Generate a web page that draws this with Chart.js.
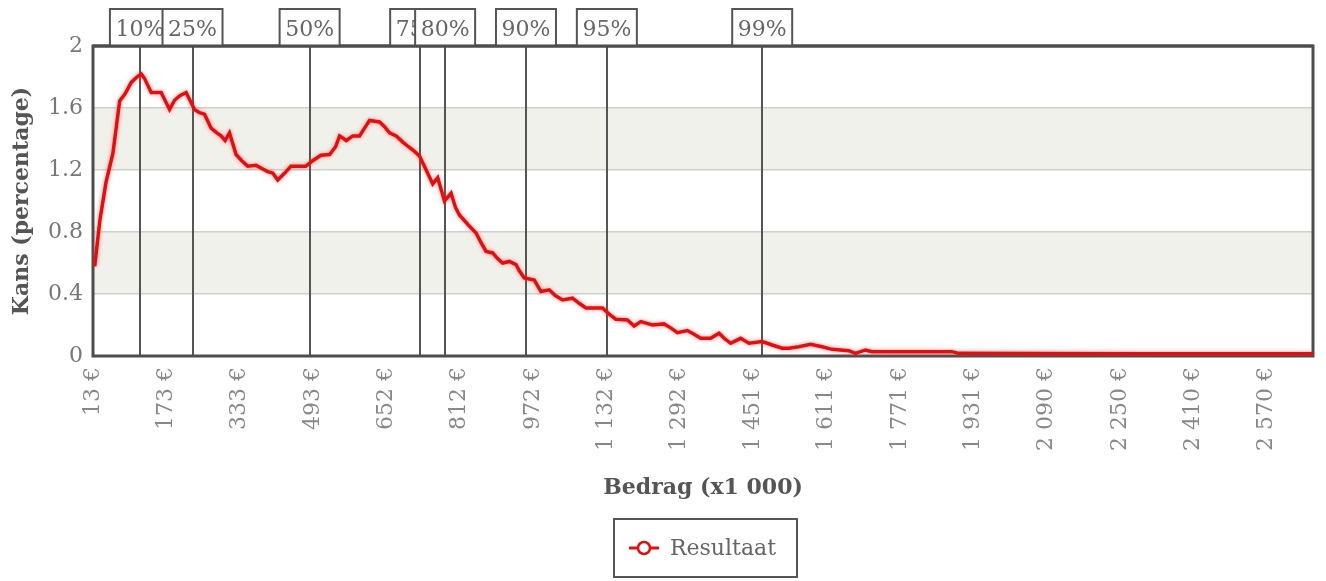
<!DOCTYPE html>
<html><head><meta charset="utf-8">
<script src="https://cdn.jsdelivr.net/npm/chart.js@4.4.1/dist/chart.umd.min.js"></script>
<style>html,body{margin:0;padding:0;background:#fff;overflow:hidden;}</style>
</head><body>
<canvas id="c" width="1326" height="581"></canvas>
<script>
// ---- data ----
const amounts = [17,28.5,41.6,56.8,71.4,82.9,96.6,109,118.4,125.7,140.1,150.3,161.8,180.1,191,202.5,216.2,234.5,245.4,256.2,270.6,283,292.3,301,310.6,325,337.4,350.4,368.5,380.9,393.9,404.8,415.7,430.9,444.6,461.3,477.2,491.8,509.8,528.7,541.8,550.5,565.1,579.4,594,604.9,615.7,637.5,648.4,659.2,673.8,688.2,700.6,713.6,724.5,739.1,753.4,764.3,778.9,793.4,802.8,811.5,829.5,847.8,857.2,869.6,883.9,894.1,905.7,920.2,934.8,942,952.9,974.6,989.2,1007.2,1020.3,1036.2,1057.9,1072.5,1087,1105.1,1123.1,1137.7,1152.3,1177.5,1192.1,1206.7,1231.9,1257.3,1272.6,1286.3,1308,1322.6,1337.2,1358.9,1377,1390,1402.4,1424.2,1442.2,1471.1,1492.9,1514.6,1529.2,1551,1576.4,1601.6,1623.4,1659.7,1674.2,1696,1710.4,1790.2,1884.3,1898.9,2094.7,2312.2,2529.7,2671];
const chance = [0.578,0.88,1.12,1.31,1.646,1.69,1.765,1.80,1.82,1.79,1.70,1.70,1.70,1.59,1.65,1.68,1.70,1.59,1.57,1.56,1.47,1.44,1.42,1.39,1.44,1.30,1.26,1.225,1.23,1.21,1.19,1.18,1.135,1.18,1.225,1.225,1.225,1.26,1.295,1.30,1.35,1.42,1.39,1.42,1.42,1.47,1.52,1.51,1.48,1.44,1.42,1.38,1.35,1.32,1.29,1.20,1.11,1.15,1.00,1.05,0.96,0.91,0.85,0.794,0.74,0.675,0.665,0.63,0.60,0.61,0.59,0.55,0.503,0.49,0.416,0.427,0.39,0.362,0.373,0.34,0.31,0.31,0.31,0.27,0.237,0.233,0.194,0.222,0.20,0.207,0.18,0.151,0.164,0.14,0.114,0.114,0.147,0.11,0.082,0.114,0.082,0.093,0.071,0.05,0.05,0.06,0.075,0.06,0.043,0.034,0.017,0.039,0.028,0.028,0.028,0.017,0.016,0.015,0.015,0.015];
const xTickValues = [13.3,173.08,332.86,492.64,652.42,812.2,971.98,1131.76,1291.54,1451.32,1611.1,1770.88,1930.66,2090.44,2250.22,2410.0,2569.78];
const xTickLabels = ['13 €','173 €','333 €','493 €','652 €','812 €','972 €','1 132 €','1 292 €','1 451 €','1 611 €','1 771 €','1 931 €','2 090 €','2 250 €','2 410 €','2 570 €'];
const yTickValues = [0,0.4,0.8,1.2,1.6,2];
const yTickLabels = ['0','0.4','0.8','1.2','1.6','2'];
const percentileValues = [115.5,230.1,485.2,726,780.4,956.5,1132.7,1471.1];
const percentileLabels = ['10%','25%','50%','75%','80%','90%','95%','99%'];
const seriesName = 'Resultaat';
const xTitle = 'Bedrag (x1 000)';
const yTitle = 'Kans (percentage)';

const FONT = 'DejaVu Serif';
Chart.defaults.font.family = FONT;

const decor = {
  id: 'decor',
  beforeDraw(chart) {
    const {ctx, chartArea: a, scales: {y}} = chart;
    ctx.save();
    ctx.fillStyle = '#ffffff';
    ctx.fillRect(0, 0, chart.width, chart.height);
    ctx.fillStyle = '#f1f1eb';
    for (let i = 1; i < yTickValues.length - 1; i += 2) {
      const t = y.getPixelForValue(yTickValues[i + 1]);
      const b = y.getPixelForValue(yTickValues[i]);
      ctx.fillRect(a.left, t, a.right - a.left, b - t);
    }
    ctx.restore();
  },
  beforeDatasetsDraw(chart) {
    const {ctx, chartArea: a, scales: {x}} = chart;
    ctx.save();
    ctx.strokeStyle = '#555';
    ctx.lineWidth = 2;
    percentileValues.forEach(v => {
      const px = Math.round(x.getPixelForValue(v));
      ctx.beginPath(); ctx.moveTo(px, a.top); ctx.lineTo(px, a.bottom); ctx.stroke();
    });
    ctx.lineWidth = 3;
    ctx.strokeStyle = '#4d4d4d';
    ctx.strokeRect(a.left, a.top, a.right - a.left, a.bottom - a.top);
    ctx.restore();
  },
  beforeDatasetDraw(chart) {
    const ctx = chart.ctx;
    ctx.save();
    ctx.shadowColor = 'rgba(255,60,60,0.55)';
    ctx.shadowBlur = 4;
  },
  afterDatasetDraw(chart) { chart.ctx.restore(); },
  afterDraw(chart) {
    const {ctx, chartArea: a, scales: {x}} = chart;
    ctx.save();
    // percentile label boxes
    ctx.font = '22px "' + FONT + '"';
    ctx.textAlign = 'center';
    ctx.textBaseline = 'middle';
    percentileValues.forEach((v, i) => {
      const px = x.getPixelForValue(v);
      const w = 60, top = 9, h = a.top - 9;
      ctx.fillStyle = '#fff';
      ctx.fillRect(px - w / 2, top, w, h);
      ctx.strokeStyle = '#555';
      ctx.lineWidth = 2;
      ctx.strokeRect(px - w / 2, top, w, h);
      ctx.fillStyle = '#666';
      ctx.fillText(percentileLabels[i], px, 30);
    });
    ctx.strokeStyle = '#4d4d4d';
    ctx.lineWidth = 3;
    ctx.beginPath(); ctx.moveTo(a.left, a.top); ctx.lineTo(a.right, a.top); ctx.stroke();
    // legend
    const lx = 614, ly = 519, lw = 183, lh = 58;
    ctx.fillStyle = '#fff';
    ctx.fillRect(lx, ly, lw, lh);
    ctx.strokeStyle = '#555';
    ctx.lineWidth = 2;
    ctx.strokeRect(lx, ly, lw, lh);
    const my = ly + 29;
    ctx.strokeStyle = '#e01010';
    ctx.lineWidth = 3;
    ctx.beginPath(); ctx.moveTo(629, my); ctx.lineTo(659, my); ctx.stroke();
    ctx.beginPath(); ctx.arc(644, my, 6, 0, Math.PI * 2);
    ctx.fillStyle = '#fff'; ctx.fill();
    ctx.lineWidth = 2.5; ctx.stroke();
    ctx.fillStyle = '#666';
    ctx.textAlign = 'left';
    ctx.fillText(seriesName, 670, my + 1);
    ctx.restore();
  }
};

new Chart(document.getElementById('c'), {
  type: 'line',
  data: {
    datasets: [{
      label: seriesName,
      data: amounts.map((a, i) => ({x: a, y: chance[i]})),
      borderColor: '#e01010',
      borderWidth: 3.5,
      pointRadius: 0,
      tension: 0,
      fill: false
    }]
  },
  options: {
    responsive: false,
    animation: false,
    devicePixelRatio: 1,
    layout: {padding: {top: 46, right: 13, bottom: 71, left: 0}},
    plugins: {legend: {display: false}, tooltip: {enabled: false}},
    scales: {
      x: {
        type: 'linear',
        min: 13.3,
        max: 2671,
        afterBuildTicks(s) { s.ticks = xTickValues.map(v => ({value: v})); },
        afterFit(s) { s.height = 154; },
        grid: {display: false, drawTicks: false},
        border: {display: false},
        ticks: {
          autoSkip: false,
          minRotation: 90,
          maxRotation: 90,
          padding: 11,
          color: '#888',
          font: {size: 22},
          callback: (v, i) => xTickLabels[i]
        },
        title: {display: true, text: xTitle, color: '#555', font: {size: 22, weight: 'bold'}, padding: {top: 0, bottom: 9}}
      },
      y: {
        min: 0,
        max: 2,
        afterBuildTicks(s) { s.ticks = yTickValues.map(v => ({value: v})); },
        afterFit(s) { s.width = 93; },
        grid: {color: '#cfcfcf', lineWidth: 1.5, drawTicks: false},
        border: {display: false},
        ticks: {padding: 10, color: '#777', font: {size: 22}, callback: (v, i) => yTickLabels[i]},
        title: {display: true, text: yTitle, color: '#555', font: {size: 22, weight: 'bold'}, padding: {top: 9, bottom: 0}}
      }
    }
  },
  plugins: [decor]
});
</script>
</body></html>
